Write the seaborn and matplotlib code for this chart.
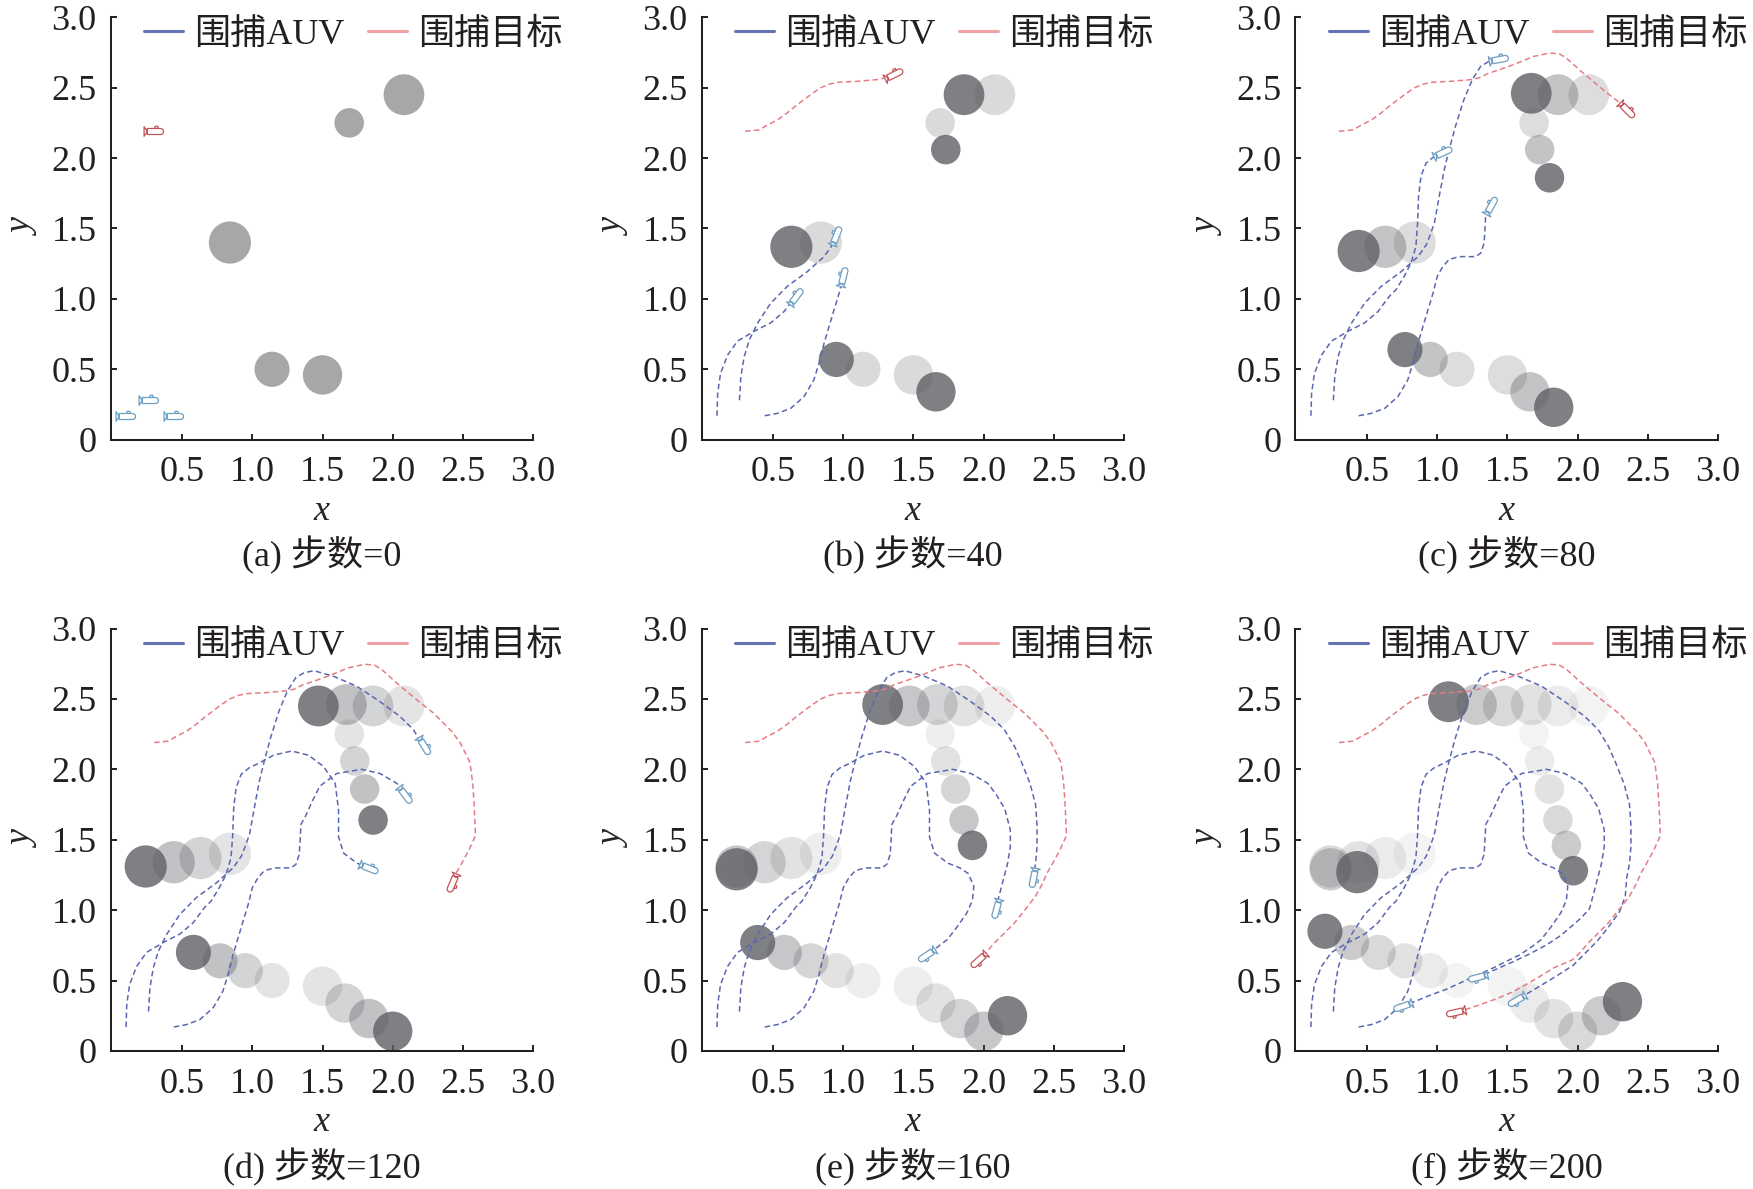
import numpy as np
import seaborn as sns
import matplotlib
matplotlib.use("Agg")
import matplotlib.pyplot as plt
from matplotlib.patches import Circle
from matplotlib.path import Path
from matplotlib.markers import MarkerStyle
from matplotlib.transforms import Affine2D
from matplotlib.lines import Line2D

# ---------------- data ----------------
steps = [0, 40, 80, 120, 160, 200]
panel_tags = ["(a)", "(b)", "(c)", "(d)", "(e)", "(f)"]

# obstacle centres at steps 0, 40, ..., 200
obs_1 = [(0.84, 1.40), (0.63, 1.37), (0.44, 1.34), (0.24, 1.31), (0.24, 1.29), (0.43, 1.27)]
obs_2 = [(1.14, 0.50), (0.95, 0.57), (0.77, 0.64), (0.58, 0.70), (0.39, 0.77), (0.20, 0.85)]
obs_3 = [(1.50, 0.46), (1.66, 0.34), (1.83, 0.23), (2.00, 0.14), (2.17, 0.25), (2.32, 0.35)]
obs_4 = [(1.69, 2.25), (1.73, 2.06), (1.80, 1.86), (1.86, 1.64), (1.92, 1.46), (1.97, 1.28)]
obs_5 = [(2.08, 2.45), (1.86, 2.45), (1.67, 2.46), (1.47, 2.45), (1.28, 2.46), (1.08, 2.48)]
obstacles = [obs_1, obs_2, obs_3, obs_4, obs_5]
obs_radius = [0.15, 0.125, 0.14, 0.105, 0.145]

# trajectories, split into the pieces travelled between the shown steps
auv1_path = [
    [(0.10, 0.17)],
    [(0.105, 0.33), (0.125, 0.47), (0.175, 0.60), (0.246, 0.70), (0.365, 0.77),
     (0.483, 0.83), (0.578, 0.91), (0.66, 1.02)],
    [(0.706, 1.064), (0.765, 1.16), (0.813, 1.254), (0.848, 1.372), (0.86, 1.538),
     (0.867, 1.728), (0.884, 1.87), (0.92, 1.964), (0.979, 2.012), (1.04, 2.04)],
    [(1.15, 2.10), (1.28, 2.13), (1.40, 2.10), (1.507, 2.02), (1.59, 1.90),
     (1.614, 1.71), (1.614, 1.52), (1.65, 1.405), (1.744, 1.334), (1.83, 1.30)],
    [(1.89, 1.26), (1.93, 1.17), (1.92, 1.07), (1.88, 0.98), (1.81, 0.88),
     (1.74, 0.79), (1.66, 0.73), (1.587, 0.682)],
    [(1.50, 0.64), (1.40, 0.59), (1.30, 0.545), (1.20, 0.50), (1.07, 0.44),
     (0.96, 0.40), (0.85, 0.355), (0.75, 0.32)],
]
auv2_path = [
    [(0.26, 0.28)],
    [(0.27, 0.448), (0.294, 0.59), (0.33, 0.708), (0.389, 0.827), (0.483, 0.97),
     (0.60, 1.088), (0.744, 1.194), (0.863, 1.30), (0.922, 1.384), (0.95, 1.455)],
    [(0.98, 1.54), (1.014, 1.727), (1.05, 1.917), (1.085, 2.06), (1.13, 2.225),
     (1.19, 2.415), (1.25, 2.557), (1.31, 2.652), (1.37, 2.687), (1.44, 2.70)],
    [(1.58, 2.66), (1.744, 2.59), (1.91, 2.48), (2.05, 2.377), (2.147, 2.282), (2.22, 2.163)],
    [(2.27, 2.05), (2.33, 1.90), (2.37, 1.75), (2.38, 1.60), (2.38, 1.45),
     (2.37, 1.33), (2.35, 1.23)],
    [(2.34, 1.10), (2.30, 0.99), (2.22, 0.88), (2.14, 0.78), (2.05, 0.69),
     (1.97, 0.61), (1.87, 0.545), (1.78, 0.49), (1.68, 0.43), (1.56, 0.36)],
]
auv3_path = [
    [(0.44, 0.17)],
    [(0.53, 0.187), (0.626, 0.223), (0.72, 0.306), (0.79, 0.424), (0.827, 0.543),
     (0.863, 0.685), (0.898, 0.803), (0.934, 0.922), (0.97, 1.04), (1.0, 1.16)],
    [(1.04, 1.23), (1.085, 1.28), (1.156, 1.30), (1.275, 1.30), (1.31, 1.325),
     (1.334, 1.396), (1.341, 1.514), (1.346, 1.609), (1.38, 1.67)],
    [(1.43, 1.78), (1.48, 1.88), (1.60, 1.97), (1.78, 2.0), (1.91, 1.97),
     (2.03, 1.90), (2.09, 1.82)],
    [(2.15, 1.72), (2.19, 1.57), (2.19, 1.45), (2.17, 1.33), (2.12, 1.14), (2.085, 1.01)],
    [(2.03, 0.95), (1.97, 0.896), (1.88, 0.82), (1.78, 0.754), (1.66, 0.69),
     (1.544, 0.635), (1.43, 0.585), (1.33, 0.54), (1.283, 0.528)],
]
target_path = [
    [(0.30, 2.19)],
    [(0.40, 2.20), (0.46, 2.235), (0.53, 2.27), (0.60, 2.32), (0.66, 2.37),
     (0.72, 2.415), (0.78, 2.46), (0.84, 2.50), (0.90, 2.525), (0.96, 2.538),
     (1.10, 2.545), (1.24, 2.557), (1.30, 2.57), (1.36, 2.60)],
    [(1.45, 2.63), (1.535, 2.66), (1.61, 2.69), (1.68, 2.72), (1.80, 2.746),
     (1.87, 2.74), (1.92, 2.71), (1.96, 2.675), (2.02, 2.62), (2.08, 2.57),
     (2.14, 2.52), (2.20, 2.47), (2.29, 2.40), (2.35, 2.34)],
    [(2.42, 2.27), (2.48, 2.19), (2.55, 2.05), (2.57, 1.90), (2.58, 1.75),
     (2.59, 1.53), (2.54, 1.42), (2.49, 1.33), (2.45, 1.26), (2.42, 1.19)],
    [(2.37, 1.10), (2.30, 1.01), (2.22, 0.91), (2.14, 0.83), (2.07, 0.76),
     (2.01, 0.69), (1.96, 0.645)],
    [(1.90, 0.62), (1.83, 0.59), (1.70, 0.51), (1.54, 0.42), (1.42, 0.37),
     (1.31, 0.33), (1.22, 0.30), (1.13, 0.28)],
]
auv_paths = [auv1_path, auv2_path, auv3_path]

x_ticks = [0.5, 1.0, 1.5, 2.0, 2.5, 3.0]
x_tick_labels = ["0.5", "1.0", "1.5", "2.0", "2.5", "3.0"]
y_ticks = [0, 0.5, 1.0, 1.5, 2.0, 2.5, 3.0]
y_tick_labels = ["0", "0.5", "1.0", "1.5", "2.0", "2.5", "3.0"]
legend_labels = ["围捕AUV", "围捕目标"]

# ---------------- style ----------------
BLUE = "#5a67b1"
RED = "#e57c83"
BLUE_HANDLE = "#6673b2"
RED_HANDLE = "#f0a2a7"
AUV_ICON = "#6f9fc2"
TARGET_ICON = "#c2555c"
OBS_GRAY = "#5f6065"
TXT = "#231f20"
# alpha of the faded copies, newest first, by number of earlier positions shown
TRAIL_ALPHAS = {0: [], 1: [0.23], 2: [0.37, 0.21], 3: [0.38, 0.27, 0.17],
                4: [0.35, 0.26, 0.18, 0.10], 5: [0.32, 0.24, 0.18, 0.12, 0.07]}
CURRENT_ALPHA = [0.55, 0.8, 0.8, 0.8, 0.8, 0.8]

sns.set_style("ticks")
plt.rcParams["font.family"] = ["Liberation Serif", "Noto Sans CJK SC"]
plt.rcParams["font.size"] = 26
plt.rcParams["text.color"] = TXT
plt.rcParams["axes.edgecolor"] = TXT
plt.rcParams["xtick.color"] = TXT
plt.rcParams["ytick.color"] = TXT


def vehicle_marker(angle):
    t = np.linspace(-np.pi / 2, np.pi / 2, 9)
    nose = np.column_stack([0.30 + 0.15 * np.cos(t), 0.15 * np.sin(t)])
    hull = np.vstack([[-0.36, -0.15], nose, [-0.36, 0.15], [-0.36, -0.15]])
    fin = np.array([[-0.36, 0.0], [-0.52, 0.24], [-0.52, -0.24], [-0.36, 0.0]])
    tower = np.array([[0.0, 0.15], [0.04, 0.26], [0.16, 0.26], [0.18, 0.15]])
    path = Path.make_compound_path(Path(hull, closed=True), Path(fin, closed=True), Path(tower))
    return MarkerStyle(path, transform=Affine2D().rotate_deg(angle))


def upto(path, k):
    pts = [p for seg in path[: k + 1] for p in seg]
    return np.array(pts)


def draw_track(ax, path, k, color, icon_color):
    pts = upto(path, k)
    if len(pts) > 1:
        sns.lineplot(x=pts[:, 0], y=pts[:, 1], sort=False, estimator=None, ax=ax,
                     color=color, linewidth=1.1, zorder=2)
        ax.lines[-1].set_dashes((3.6, 2.2))
        dx, dy = pts[-1] - pts[-2]
        angle = np.degrees(np.arctan2(dy, dx))
    else:
        angle = 0.0
    ax.plot(pts[-1, 0], pts[-1, 1], ls="none", marker=vehicle_marker(angle), ms=15,
            mfc="white", mec=icon_color, mew=0.9, zorder=4)


fig = plt.figure(figsize=(17.53, 11.89), dpi=100)
lefts = [0.0631, 0.4002, 0.7390]
bottoms = [0.6302, 0.1161]
ax_w, ax_h = 0.2410, 0.3553

for k, step in enumerate(steps):
    row, col = divmod(k, 3)
    ax = fig.add_axes([lefts[col], bottoms[row], ax_w, ax_h])

    # obstacle trails (older first), then current positions
    for age in range(k, 0, -1):
        alpha = TRAIL_ALPHAS[k][age - 1]
        for obs, r in zip(obstacles, obs_radius):
            ax.add_patch(Circle(obs[k - age], r, facecolor=OBS_GRAY, edgecolor="none",
                                alpha=alpha, zorder=1))
    for obs, r in zip(obstacles, obs_radius):
        ax.add_patch(Circle(obs[k], r, facecolor=OBS_GRAY, edgecolor="none",
                            alpha=CURRENT_ALPHA[k], zorder=1.5))

    for path in auv_paths:
        draw_track(ax, path, k, BLUE, AUV_ICON)
    draw_track(ax, target_path, k, RED, TARGET_ICON)

    ax.set_xlim(-0.01, 3.0)
    ax.set_ylim(0, 3.0)
    ax.set_xticks(x_ticks)
    ax.set_xticklabels(x_tick_labels)
    ax.set_yticks(y_ticks)
    ax.set_yticklabels(y_tick_labels)
    ax.tick_params(axis="both", direction="in", length=4.2, width=1.4, labelsize=26)
    ax.tick_params(axis="x", pad=12)
    ax.tick_params(axis="y", pad=10)
    sns.despine(ax=ax)
    for side in ["left", "bottom"]:
        ax.spines[side].set_linewidth(1.45)

    ax.set_xlabel("x", fontstyle="italic", fontsize=26)
    ax.xaxis.set_label_coords(0.5, -0.170)
    ax.xaxis.label.set_va("center")
    ax.set_ylabel("y", fontstyle="italic", fontsize=26)
    ax.yaxis.set_label_coords(-0.205, 0.5)
    ax.yaxis.label.set_va("center")

    ax.text(0.5, -0.274, f"{panel_tags[k]} 步数={step}", transform=ax.transAxes,
            ha="center", va="center", fontsize=26)

    handles = [Line2D([], [], color=BLUE_HANDLE, lw=2.2),
               Line2D([], [], color=RED_HANDLE, lw=2.2)]
    ax.legend(handles, legend_labels, loc="center left", bbox_to_anchor=(0.08, 0.957),
              ncol=2, frameon=False, fontsize=26, handlelength=1.08, handletextpad=0.3,
              columnspacing=0.65, borderpad=0, borderaxespad=0)

fig.savefig("out.png", dpi=100)
